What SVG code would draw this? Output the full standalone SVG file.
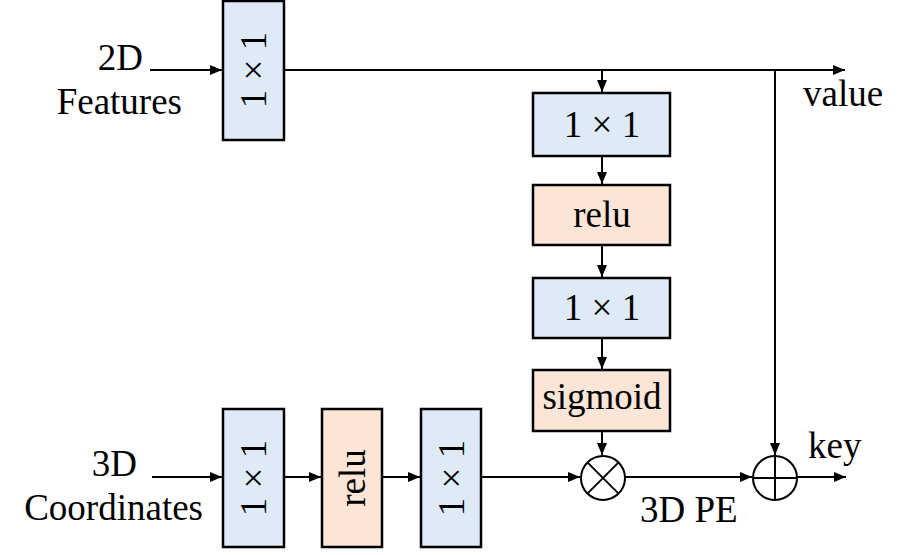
<svg xmlns="http://www.w3.org/2000/svg" width="921" height="555" viewBox="0 0 921 555" font-family="'Liberation Serif', 'Times New Roman', serif">
<style>
.blue{fill:#DEEBF7;stroke:#000;stroke-width:2.5}
.orange{fill:#FBE5D6;stroke:#000;stroke-width:2.5}
.t{font-family:'Liberation Serif','Times New Roman',serif;font-size:37px;fill:#000}
.c{text-anchor:middle}
.ln{fill:none;stroke:#000;stroke-width:2}
.ar{marker-end:url(#ah)}
</style>
<defs>
<marker id="ah" markerWidth="12" markerHeight="10" refX="12" refY="5" orient="auto" markerUnits="userSpaceOnUse">
<path d="M0,0 L12,5 L0,10 z" fill="#000"/>
</marker>
</defs>
<rect width="921" height="555" fill="#fff"/>
<g id="connectors">
<path class="ln ar" d="M150,70 H222"/>
<path class="ln ar" d="M284,70 H845"/>
<path class="ln ar" d="M602,70 V92"/>
<path class="ln ar" d="M602,156 V184"/>
<path class="ln ar" d="M602,245 V277"/>
<path class="ln ar" d="M602,338 V369"/>
<path class="ln ar" d="M602,431 V455"/>
<path class="ln ar" d="M775,70 V455"/>
<path class="ln ar" d="M152,477 H222"/>
<path class="ln ar" d="M284,477 H321"/>
<path class="ln ar" d="M382,477 H420"/>
<path class="ln ar" d="M481,477 H580"/>
<path class="ln ar" d="M625,477 H752"/>
<path class="ln ar" d="M797,477 H846"/>
</g>
<g id="label-2d">
<text class="t" x="143" y="70" text-anchor="end">2D</text>
<text class="t" x="182" y="114" text-anchor="end">Features</text>
</g>
<g id="label-3d">
<text class="t" x="137" y="476" text-anchor="end">3D</text>
<text class="t" x="203" y="520" text-anchor="end">Coordinates</text>
</g>
<g id="label-value"><text class="t" x="803" y="106">value</text></g>
<g id="label-key"><text class="t" x="808" y="458">key</text></g>
<g id="label-3dpe"><text class="t" x="640" y="522">3D PE</text></g>
<g id="conv2d">
<rect class="blue" x="223" y="1" width="61" height="139"/>
<text class="t c" transform="translate(266,70) rotate(-90)">1 × 1</text>
</g>
<g id="conv-a">
<rect class="blue" x="533" y="93" width="137" height="63"/>
<text class="t c" x="602" y="137">1 × 1</text>
</g>
<g id="relu-a">
<rect class="orange" x="533" y="185" width="137" height="60"/>
<text class="t c" x="602" y="227">relu</text>
</g>
<g id="conv-b">
<rect class="blue" x="533" y="278" width="137" height="60"/>
<text class="t c" x="602" y="320">1 × 1</text>
</g>
<g id="sigmoid">
<rect class="orange" x="533" y="370" width="137" height="61"/>
<text class="t c" x="602" y="409">sigmoid</text>
</g>
<g id="conv3d-1">
<rect class="blue" x="223" y="409" width="61" height="138"/>
<text class="t c" transform="translate(266,478) rotate(-90)">1 × 1</text>
</g>
<g id="relu-b">
<rect class="orange" x="322" y="409" width="60" height="138"/>
<text class="t c" transform="translate(365,478) rotate(-90)">relu</text>
</g>
<g id="conv3d-2">
<rect class="blue" x="421" y="409" width="60" height="138"/>
<text class="t c" transform="translate(464,478) rotate(-90)">1 × 1</text>
</g>
<g id="mul">
<circle cx="603" cy="478" r="22" fill="#fff" stroke="#000" stroke-width="2"/>
<path class="ln" d="M587.4,462.4 L618.6,493.6 M618.6,462.4 L587.4,493.6"/>
</g>
<g id="add">
<circle cx="775" cy="478" r="22" fill="#fff" stroke="#000" stroke-width="2"/>
<path class="ln" d="M753,478 H797 M775,456 V500"/>
</g>
</svg>
